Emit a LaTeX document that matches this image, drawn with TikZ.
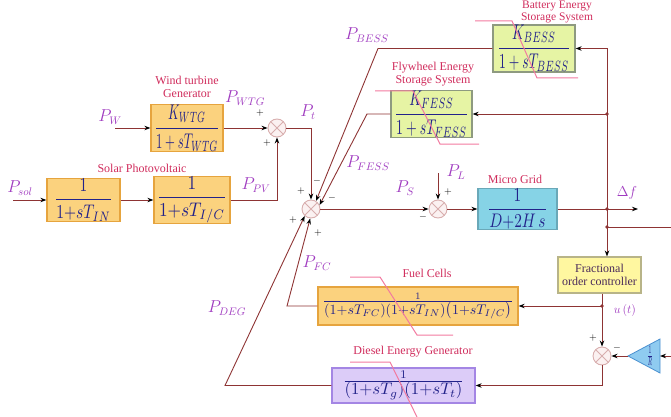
\documentclass[tikz,border=0pt]{standalone}
\usepackage{amsmath}
\usepackage{fontspec}
\setmainfont{Liberation Serif}
\usepackage{graphicx}
\usetikzlibrary{arrows.meta}
\definecolor{cwire}{HTML}{8E3434}
\definecolor{plab}{HTML}{A03CC0}
\definecolor{ttl}{HTML}{D02C5C}
\definecolor{fracc}{HTML}{22228A}
\definecolor{pinkl}{HTML}{F27AA0}
\definecolor{sumedge}{HTML}{D8AEAE}
\definecolor{sumfill}{HTML}{FBF1F1}
\definecolor{orfill}{HTML}{FBD27E}
\definecolor{ordraw}{HTML}{E6A43E}
\definecolor{grfill}{HTML}{E6F4A4}
\definecolor{grdraw}{HTML}{8E9A80}
\definecolor{cyfill}{HTML}{86D3E6}
\definecolor{cydraw}{HTML}{6AA8B8}
\definecolor{yefill}{HTML}{FFF7A0}
\definecolor{yedraw}{HTML}{B8B488}
\definecolor{lvfill}{HTML}{DCCCF8}
\definecolor{lvdraw}{HTML}{A486E4}
\definecolor{trfill}{HTML}{8FCBF0}
\definecolor{trdraw}{HTML}{4A90D0}
\definecolor{ctrltxt}{HTML}{4A2A5A}
\tikzset{
  wireline/.style={draw=cwire, line width=0.9pt},
  arr/.style={wireline, -{Stealth[length=6pt,width=4.5pt,black]}},
  sumnode/.style={circle, draw=sumedge, fill=sumfill, line width=0.9pt, minimum size=18pt, inner sep=0pt,
    path picture={\draw[sumedge, line width=0.9pt]
      (path picture bounding box.north west) -- (path picture bounding box.south east)
      (path picture bounding box.north east) -- (path picture bounding box.south west);}},
  blk/.style={draw, line width=1.3pt, inner sep=0pt, text=fracc, anchor=center},
  orblk/.style={blk, fill=orfill, draw=ordraw},
  grblk/.style={blk, fill=grfill, draw=grdraw},
  plabel/.style={text=plab, font=\fontsize{16}{18}\selectfont, inner sep=0pt},
  ttlabel/.style={text=ttl, font=\fontsize{12}{13}\selectfont, align=center, inner sep=0pt},
  sgn/.style={font=\fontsize{10}{11}\selectfont, inner sep=0pt, text=black},
  callout/.style={draw=pinkl, line width=1pt},
  dotj/.style={fill=cwire}
}
\begin{document}
\begin{tikzpicture}[x=1pt,y=-1pt]
\useasboundingbox (0,0) rectangle (671,417);

% blocks
\node[orblk, minimum width=72pt, minimum height=39pt] (wind) at (187,128)
  {\resizebox{65pt}{29pt}{$\dfrac{K_{WTG}}{1+sT_{WTG}}$}};
\node[orblk, minimum width=73pt, minimum height=34pt] (sol1) at (83.5,200)
  {\resizebox{58pt}{26pt}{$\dfrac{1}{1{+}sT_{IN}}$}};
\node[orblk, minimum width=76pt, minimum height=34pt] (sol2) at (192,200)
  {\resizebox{70pt}{26pt}{$\dfrac{1}{1{+}sT_{I/C}}$}};
\node[grblk, minimum width=82pt, minimum height=36pt] (bess) at (534,48.5)
  {\resizebox{73pt}{29pt}{$\dfrac{K_{BESS}}{1+sT_{BESS}}$}};
\node[grblk, minimum width=81pt, minimum height=36pt] (fess) at (431.5,114)
  {\resizebox{74pt}{29pt}{$\dfrac{K_{FESS}}{1+sT_{FESS}}$}};
\node[blk, fill=cyfill, draw=cydraw, minimum width=79pt, minimum height=37pt] (mg) at (517.5,209)
  {\resizebox{60pt}{26pt}{$\dfrac{1}{D{+}2H\,s}$}};
\node[orblk, minimum width=200pt, minimum height=38pt] (fc) at (418,306)
  {\resizebox{191pt}{!}{$\frac{\scriptstyle 1}{\textstyle (1{+}sT_{FC})(1{+}sT_{IN})\big(1{+}sT_{I/C}\big)}$}};
\node[blk, fill=lvfill, draw=lvdraw, minimum width=143pt, minimum height=35pt] (deg) at (403.5,385.5)
  {\resizebox{122pt}{!}{$\frac{\scriptstyle 1}{\textstyle (1{+}sT_{g})(1{+}sT_{t})}$}};
\node[blk, fill=yefill, draw=yedraw, line width=1.1pt, minimum width=83pt, minimum height=36pt,
  text=ctrltxt, align=center, font=\fontsize{12}{13.5}\selectfont] (ctrl) at (599.5,275)
  {Fractional\\order controller};

% summing junctions
\node[sumnode] (sum1) at (277,128) {};
\node[sumnode] (msum) at (311,209) {};
\node[sumnode] (sum2) at (438,209) {};
\node[sumnode] (sum3) at (602,356) {};

% gain 1/R
\coordinate (tritip) at (628,356);
\coordinate (tribase) at (660,356);
\draw[fill=trfill, draw=trdraw, line width=0.8pt] (tritip) -- (660,339) -- (660,373) -- cycle;
\node[text=fracc, inner sep=0pt] (rgain) at (650,356) {\resizebox{6pt}{14pt}{$\frac{1}{R}$}};

% coordinates
\coordinate (pw) at (115,128);
\coordinate (psol) at (13,200);
\coordinate (cb) at (378,48.5);
\coordinate (cf) at (367,114);
\coordinate (cfc) at (287,306);
\coordinate (cd) at (225,385.5);
\coordinate (pl) at (438,173);
\coordinate (dfend) at (638,209);
\coordinate (j1) at (607,209);
\coordinate (j2) at (607,227);
\coordinate (jf) at (607,114);
\coordinate (ju) at (602,306);
\coordinate (redge) at (671,227);
\coordinate (redge2) at (671,356);

% connectors
\draw[arr] (pw) -- (wind.west);
\draw[arr] (wind.east) -- (sum1.west);
\draw[arr] (psol) -- (sol1.west);
\draw[arr] (sol1.east) -- (sol2.west);
\draw[arr] (sol2.east) -| (sum1.south);
\draw[arr] (sum1.east) -| (msum.north);
\draw[arr] (bess.west) -- (cb) -- (msum.58);
\draw[arr] (fess.west) -- (cf) -- (msum.25);
\draw[arr] (fc.west) -- (cfc) -- (msum.265);
\draw[arr] (deg.west) -- (cd) -- (msum.228);
\draw[arr] (msum.east) -- (sum2.west);
\draw[arr] (pl) -- (sum2.north);
\draw[arr] (sum2.east) -- (mg.west);
\draw[arr] (mg.east) -- (dfend);
\draw[arr] (j1) |- (bess.east);
\draw[arr] (jf) -- (fess.east);
\draw[arr] (j1) -- (j1 |- ctrl.north);
\draw[wireline] (j2) -- (redge);
\draw[arr] (ju |- ctrl.south) -- (sum3.north);
\draw[arr] (ju) -- (fc.east);
\draw[arr] (redge2) -- (tribase);
\draw[arr] (tritip) -- (sum3.east);
\draw[arr] (sum3.south) |- (deg.east);
\foreach \p in {j1,j2,jf,ju} \fill[dotj] (\p) circle (1.8pt);

% callout lines
\draw[callout] (475,21) -- (512,21) -- (537,78) -- (578,78);
\draw[callout] (375,91) -- (413,91) -- (440,144) -- (479,144);
\draw[callout] (350,277) -- (380,277) -- (417,335) -- (453,335);
\draw[callout] (350,362) -- (390,362) -- (417,417);

% titles
\node[ttlabel] (t1) at (187,86.5) {Wind turbine\\Generator};
\node[ttlabel] (t2) at (142,168) {Solar Photovoltaic};
\node[ttlabel, font=\fontsize{11.5}{12.5}\selectfont] (t3) at (557,12) {Battery Energy\\Storage System};
\node[ttlabel] (t4) at (433,74) {Flywheel Energy\\Storage System};
\node[ttlabel] (t5) at (515,179) {Micro Grid};
\node[ttlabel] (t6) at (427,273) {Fuel Cells};
\node[ttlabel] (t7) at (413,352) {Diesel Energy Generator};

% signal labels
\node[plabel] (lpw) at (110,117) {$P_{W}$};
\node[plabel] (lpwtg) at (245,98) {$P_{WTG}$};
\node[plabel] (lpt) at (308,112) {$P_{t}$};
\node[plabel] (lpsol) at (20,188) {$P_{sol}$};
\node[plabel] (lppv) at (256,185) {$P_{PV}$};
\node[plabel] (lpbess) at (367,35) {$P_{BESS}$};
\node[plabel] (lpfess) at (368,163) {$P_{FESS}$};
\node[plabel] (lps) at (405,188) {$P_{S}$};
\node[plabel] (lpl) at (456,172) {$P_{L}$};
\node[plabel] (lpfc) at (317,263) {$P_{FC}$};
\node[plabel] (lpdeg) at (227,308) {$P_{DEG}$};
\node[plabel, font=\fontsize{14}{16}\selectfont] (ldf) at (627,193) {$\Delta f$};
\node[plabel, font=\fontsize{13}{15}\selectfont] (lut) at (625,310) {$u\,(t)$};

% signs
\node[sgn] at (260,113) {$+$};
\node[sgn] at (267,143) {$+$};
\node[sgn] at (301,191) {$+$};
\node[sgn] at (317,181) {$-$};
\node[sgn] at (332,198) {$-$};
\node[sgn] at (293,220) {$+$};
\node[sgn] at (318,233) {$+$};
\node[sgn] at (448,192) {$+$};
\node[sgn] at (423,217) {$-$};
\node[sgn] at (593,338) {$+$};
\node[sgn] at (617,348) {$-$};
\end{tikzpicture}
\end{document}
